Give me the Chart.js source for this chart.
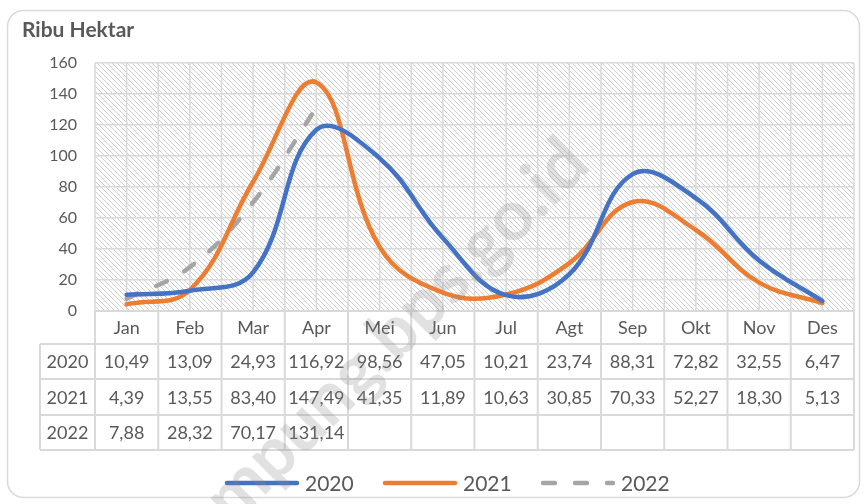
<!DOCTYPE html>
<html lang="id">
<head>
    <meta charset="UTF-8">
    <title>Ribu Hektar</title>
    <script src="https://cdn.jsdelivr.net/npm/chart.js"></script>
    <style>
        html, body { margin: 0; padding: 0; background: #fff; }
        #wrap { width: 867px; height: 504px; }
    </style>
</head>
<body>
<div id="wrap"><canvas id="chart" width="867" height="504"></canvas></div>
<script>
    // data
    const months = ['Jan', 'Feb', 'Mar', 'Apr', 'Mei', 'Jun', 'Jul', 'Agt', 'Sep', 'Okt', 'Nov', 'Des'];
    const seriesNames = ['2020', '2021', '2022'];
    const values2020 = [10.49, 13.09, 24.93, 116.92, 98.56, 47.05, 10.21, 23.74, 88.31, 72.82, 32.55, 6.47];
    const values2021 = [4.39, 13.55, 83.40, 147.49, 41.35, 11.89, 10.63, 30.85, 70.33, 52.27, 18.30, 5.13];
    const values2022 = [7.88, 28.32, 70.17, 131.14, null, null, null, null, null, null, null, null];
    const yTicks = [0, 20, 40, 60, 80, 100, 120, 140, 160];

    const FONT = 'Lato, "Open Sans", sans-serif';
    const TEXT = '#595959';
    const GRID = '#d9d9d9';

    // comma as decimal separator, like the source table
    function fmt(v) {
        return v == null ? '' : v.toFixed(2).replace('.', ',');
    }

    function roundRect(ctx, x, y, w, h, r) {
        ctx.beginPath();
        ctx.moveTo(x + r, y);
        ctx.lineTo(x + w - r, y);
        ctx.arcTo(x + w, y, x + w, y + r, r);
        ctx.lineTo(x + w, y + h - r);
        ctx.arcTo(x + w, y + h, x + w - r, y + h, r);
        ctx.lineTo(x + r, y + h);
        ctx.arcTo(x, y + h, x, y + h - r, r);
        ctx.lineTo(x, y + r);
        ctx.arcTo(x, y, x + r, y, r);
        ctx.closePath();
    }

    // background, frame, title, hatched plot area and vertical grid
    const backdrop = {
        id: 'backdrop',
        beforeDraw(chart) {
            const ctx = chart.ctx;
            const a = chart.chartArea;
            const x = chart.scales.x;
            ctx.save();
            ctx.fillStyle = '#fff';
            ctx.fillRect(0, 0, chart.width, chart.height);

            ctx.strokeStyle = GRID;
            ctx.lineWidth = 1.5;
            roundRect(ctx, 7.5, 10.5, 852, 487, 16);
            ctx.stroke();

            ctx.fillStyle = TEXT;
            ctx.font = 'bold 21px ' + FONT;
            ctx.textBaseline = 'middle';
            ctx.fillText('Ribu Hektar', 22, 30);

            // diagonal hatch
            ctx.save();
            ctx.beginPath();
            ctx.rect(a.left, a.top, a.right - a.left, a.bottom - a.top);
            ctx.clip();
            ctx.strokeStyle = '#d0d0d0';
            ctx.lineWidth = 1;
            const h = a.bottom - a.top;
            for (let k = -h; k < a.right - a.left; k += 5) {
                ctx.beginPath();
                ctx.moveTo(a.left + k, a.top);
                ctx.lineTo(a.left + k + h, a.bottom);
                ctx.stroke();
            }
            ctx.restore();

            // vertical grid on category edges and centres
            const step = (x.getPixelForValue(1) - x.getPixelForValue(0)) / 2;
            ctx.strokeStyle = GRID;
            ctx.lineWidth = 1.5;
            for (let i = 0; i <= months.length * 2; i++) {
                const px = a.left + i * step;
                ctx.beginPath();
                ctx.moveTo(px, a.top);
                ctx.lineTo(px, a.bottom);
                ctx.stroke();
            }
            ctx.restore();
        }
    };

    // data table under the plot, legend and watermark
    const tableAndLegend = {
        id: 'tableAndLegend',
        afterDraw(chart) {
            const ctx = chart.ctx;
            const a = chart.chartArea;
            const x = chart.scales.x;
            const half = (x.getPixelForValue(1) - x.getPixelForValue(0)) / 2;
            const rowY = [a.bottom, 344, 379, 415, 450];
            const labelLeft = 40;
            ctx.save();

            ctx.strokeStyle = GRID;
            ctx.lineWidth = 2;
            // horizontal rules
            ctx.beginPath();
            ctx.moveTo(a.left, rowY[0]); ctx.lineTo(a.right, rowY[0]);
            for (let r = 1; r < rowY.length; r++) {
                ctx.moveTo(labelLeft, rowY[r]); ctx.lineTo(a.right, rowY[r]);
            }
            // vertical rules
            ctx.moveTo(labelLeft, rowY[1]); ctx.lineTo(labelLeft, rowY[4]);
            for (let i = 0; i <= months.length; i++) {
                const px = x.getPixelForValue(i) - half;
                ctx.moveTo(px, rowY[0]); ctx.lineTo(px, rowY[4]);
            }
            ctx.stroke();

            ctx.fillStyle = TEXT;
            ctx.textAlign = 'center';
            ctx.textBaseline = 'middle';
            ctx.font = '18px ' + FONT;
            months.forEach((m, i) => {
                ctx.fillText(m, x.getPixelForValue(i), (rowY[0] + rowY[1]) / 2 + 1);
            });
            chart.data.datasets.forEach((ds, r) => {
                const cy = (rowY[r + 1] + rowY[r + 2]) / 2 + 1;
                ctx.fillText(ds.label, (labelLeft + a.left) / 2, cy);
                ds.data.forEach((v, i) => {
                    ctx.fillText(fmt(v), x.getPixelForValue(i), cy);
                });
            });

            // legend
            const legendX = [227, 385, 543];
            const ly = 483;
            ctx.textAlign = 'left';
            ctx.font = '21px ' + FONT;
            chart.data.datasets.forEach((ds, i) => {
                ctx.save();
                ctx.strokeStyle = ds.borderColor;
                ctx.lineWidth = ds.borderWidth;
                ctx.lineCap = ds.borderCapStyle || 'butt';
                ctx.setLineDash(ds.borderDash || []);
                ctx.beginPath();
                ctx.moveTo(legendX[i], ly);
                ctx.lineTo(legendX[i] + 70, ly);
                ctx.stroke();
                ctx.restore();
                ctx.fillStyle = TEXT;
                ctx.fillText(ds.label, legendX[i] + 78, ly + 1);
            });

            // watermark
            ctx.translate(378, 350);
            ctx.rotate(-45 * Math.PI / 180);
            ctx.font = 'bold 70px ' + FONT;
            ctx.textAlign = 'center';
            ctx.textBaseline = 'middle';
            ctx.fillStyle = 'rgba(140,140,140,0.26)';
            ctx.fillText('lampung.bps.go.id', 0, 0);
            ctx.restore();
        }
    };

    new Chart(document.getElementById('chart'), {
        type: 'line',
        data: {
            labels: months,
            datasets: [
                {
                    label: seriesNames[0], data: values2020,
                    borderColor: '#4472C4', backgroundColor: '#4472C4',
                    borderWidth: 4.5, tension: 0.4, pointRadius: 0, borderCapStyle: 'round'
                },
                {
                    label: seriesNames[1], data: values2021,
                    borderColor: '#ED7D31', backgroundColor: '#ED7D31',
                    borderWidth: 4.5, tension: 0.4, pointRadius: 0, borderCapStyle: 'round'
                },
                {
                    label: seriesNames[2], data: values2022,
                    borderColor: '#A5A5A5', backgroundColor: '#A5A5A5',
                    borderWidth: 4.5, tension: 0.4, pointRadius: 0,
                    borderDash: [12, 20], borderCapStyle: 'round'
                }
            ]
        },
        options: {
            responsive: false,
            animation: false,
            layout: { padding: { left: 0, top: 63, right: 13, bottom: 193 } },
            plugins: { legend: { display: false }, tooltip: { enabled: false } },
            scales: {
                x: { type: 'category', display: false, offset: true },
                y: {
                    min: 0, max: 160,
                    afterFit(s) { s.width = 95; },
                    afterBuildTicks(s) { s.ticks = yTicks.map(v => ({ value: v })); },
                    border: { display: false },
                    grid: { color: GRID, lineWidth: 1.5, drawTicks: false },
                    ticks: { padding: 18, color: TEXT, font: { family: FONT, size: 16 } }
                }
            }
        },
        plugins: [backdrop, tableAndLegend]
    });
</script>
</body>
</html>
